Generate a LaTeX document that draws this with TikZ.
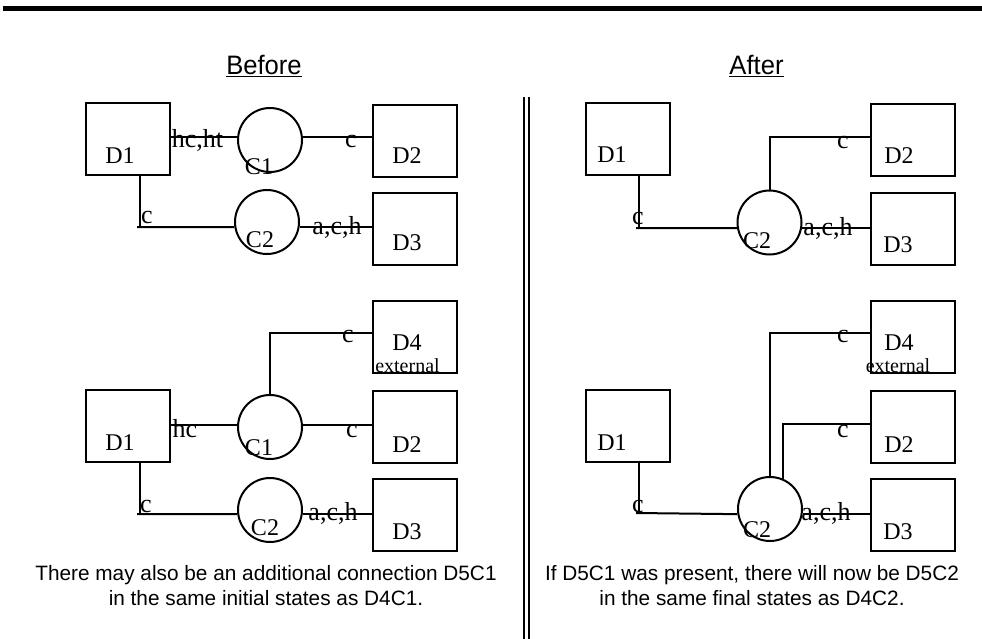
\documentclass[tikz,border=0pt]{standalone}
\usepackage{fontspec}
\setmainfont{Liberation Serif}
\newfontfamily\notefont{Liberation Sans}
\begin{document}
\begin{tikzpicture}[x=0.75pt,y=-0.75pt,
  dev/.style={draw,line width=1.5pt,minimum width=63pt,minimum height=54pt,inner sep=0pt},
  con/.style={draw,circle,line width=1.5pt,minimum size=48pt,inner sep=0pt},
  wire/.style={line width=1.5pt},
  nm/.style={font=\fontsize{18}{18}\selectfont,inner sep=0pt,anchor=base},
  lab/.style={font=\fontsize{19.5}{19.5}\selectfont,inner sep=0pt,anchor=base},
  ext/.style={font=\fontsize{15}{15}\selectfont,inner sep=0pt,anchor=base},
  note/.style={font=\notefont\fontsize{15.6}{19}\selectfont,align=center,inner sep=0pt,anchor=north},
  heading/.style={font=\notefont\fontsize{20}{20}\selectfont,inner sep=0pt,anchor=base}]
\useasboundingbox (0,0) rectangle (982,639);

% top rule and the double divider
\coordinate (ruleL) at (3,8.5);
\coordinate (ruleR) at (982,8.5);
\draw[line width=3.75pt] (ruleL) -- (ruleR);
\coordinate (divA) at (524,97);
\coordinate (divB) at (529,97);
\coordinate (bottomrow) at (0,639);
\draw[wire] (divA) -- (divA |- bottomrow);
\draw[wire] (divB) -- (divB |- bottomrow);

% headings (slightly condensed)
\node[heading] (hBefore) at (264,74) {\underline{\scalebox{0.96}[1]{Before}}};
\node[heading] (hAfter) at (756.5,74) {\underline{\scalebox{0.96}[1]{After}}};

% helper rows
\coordinate (y137) at (0,137);
\coordinate (y333) at (0,333);
\coordinate (y424) at (0,424);

% ---------------- Before, upper ----------------
\node[dev] (D1a) at (128,139) {};
\node[dev] (D2a) at (414.5,140.5) {};
\node[dev] (D3a) at (414.5,228.5) {};
\node[con] (C1a) at (270,140) {};
\node[con] (C2a) at (267,222) {};
\node[nm] (tD1a) at (120,163) {D1};
\node[nm] (tD2a) at (407,163) {D2};
\node[nm] (tD3a) at (407,250) {D3};
\node[nm] (tC1a) at (259,174) {C1};
\node[nm] (tC2a) at (260,247) {C2};
\draw[wire] (C1a.175) -- (C1a.175 -| D1a.east);
\draw[wire] (C1a.5) -- (C1a.5 -| D2a.west);
\coordinate (ka) at (140,227);
\draw[wire] (D1a.south -| ka) -- (ka);
\draw[wire] ([xshift=-2.25pt]ka) -- (C2a.189);
\draw[wire] (C2a.351) -- (C2a.351 -| D3a.west);
\node[lab] (lA1) at (197.5,147) {hc,ht};
\node[lab] (lA2) at (351,147) {c};
\node[lab] (lA3) at (147,223) {c};
\node[lab] (lA4) at (337,234) {a,c,h};

% ---------------- Before, lower ----------------
\node[dev] (D4b) at (414.5,336.5) {};
\node[dev] (D1b) at (128,425.5) {};
\node[dev] (D2b) at (414.5,427) {};
\node[dev] (D3b) at (414.5,515) {};
\node[con] (C1b) at (270,427) {};
\node[con] (C2b) at (270,510) {};
\node[nm] (tD4b) at (407,350) {D4};
\node[ext] (eD4b) at (407.5,372) {external};
\node[nm] (tD1b) at (120,450) {D1};
\node[nm] (tD2b) at (407,452) {D2};
\node[nm] (tD3b) at (407,539) {D3};
\node[nm] (tC1b) at (259,455) {C1};
\node[nm] (tC2b) at (265,535) {C2};
\draw[wire] (C1b.north) -- (C1b.north |- y333) -- (D4b.west |- y333);
\draw[wire] (C1b.176) -- (C1b.176 -| D1b.east);
\draw[wire] (C1b.4) -- (C1b.4 -| D2b.west);
\coordinate (kb) at (140,514);
\draw[wire] (D1b.south -| kb) -- (kb);
\draw[wire] ([xshift=-2.25pt]kb) -- (C2b.187);
\draw[wire] (C2b.353) -- (C2b.353 -| D3b.west);
\node[lab] (lB1) at (348,342) {c};
\node[lab] (lB2) at (185,437) {hc};
\node[lab] (lB3) at (352,437) {c};
\node[lab] (lB4) at (146,512) {c};
\node[lab] (lB5) at (333,520) {a,c,h};

% ---------------- After, upper ----------------
\node[dev] (D1c) at (627.5,139) {};
\node[dev] (D2c) at (912.5,140) {};
\node[dev] (D3c) at (912.5,228.5) {};
\node[con] (C2c) at (769.5,222.5) {};
\node[nm] (tD1c) at (612,162) {D1};
\node[nm] (tD2c) at (899,163) {D2};
\node[nm] (tD3c) at (898,252) {D3};
\node[nm] (tC2c) at (757,248) {C2};
\coordinate (kc) at (639,228);
\draw[wire] (D1c.south -| kc) -- (kc);
\draw[wire] ([xshift=-2.25pt]kc) -- (C2c.190);
\draw[wire] (C2c.351) -- (C2c.351 -| D3c.west);
\draw[wire] (C2c.north) -- (C2c.north |- y137) -- (D2c.west |- y137);
\node[lab] (lC1) at (638,224) {c};
\node[lab] (lC2) at (843,148) {c};
\node[lab] (lC3) at (828,235) {a,c,h};

% ---------------- After, lower ----------------
\node[dev] (D4d) at (912.5,337) {};
\node[dev] (D1d) at (627.5,425.5) {};
\node[dev] (D2d) at (912.5,427) {};
\node[dev] (D3d) at (912.5,515) {};
\node[con] (C2d) at (770,509) {};
\node[nm] (tD4d) at (899,350) {D4};
\node[ext] (eD4d) at (898,372) {external};
\node[nm] (tD1d) at (612,450) {D1};
\node[nm] (tD2d) at (899,452) {D2};
\node[nm] (tD3d) at (898,539) {D3};
\node[nm] (tC2d) at (757,537) {C2};
\coordinate (kd) at (639,513);
\draw[wire] (D1d.south -| kd) -- (kd);
\draw[wire] ([xshift=-2.25pt]kd) -- (C2d.189);
\draw[wire] (C2d.351) -- (C2d.351 -| D3d.west);
\draw[wire] (C2d.north) -- (C2d.north |- y333) -- (D4d.west |- y333);
\draw[wire] (C2d.66) -- (C2d.66 |- y424) -- (D2d.west |- y424);
\node[lab] (lD1) at (843,342) {c};
\node[lab] (lD2) at (843,437) {c};
\node[lab] (lD3) at (638,512) {c};
\node[lab] (lD4) at (826,520) {a,c,h};

% notes
\node[note] (nBefore) at (266,565) {There may also be an additional connection D5C1\\in the same initial states as D4C1.};
\node[note] (nAfter) at (752,565) {If D5C1 was present, there will now be D5C2\\in the same final states as D4C2.};
\end{tikzpicture}
\end{document}
